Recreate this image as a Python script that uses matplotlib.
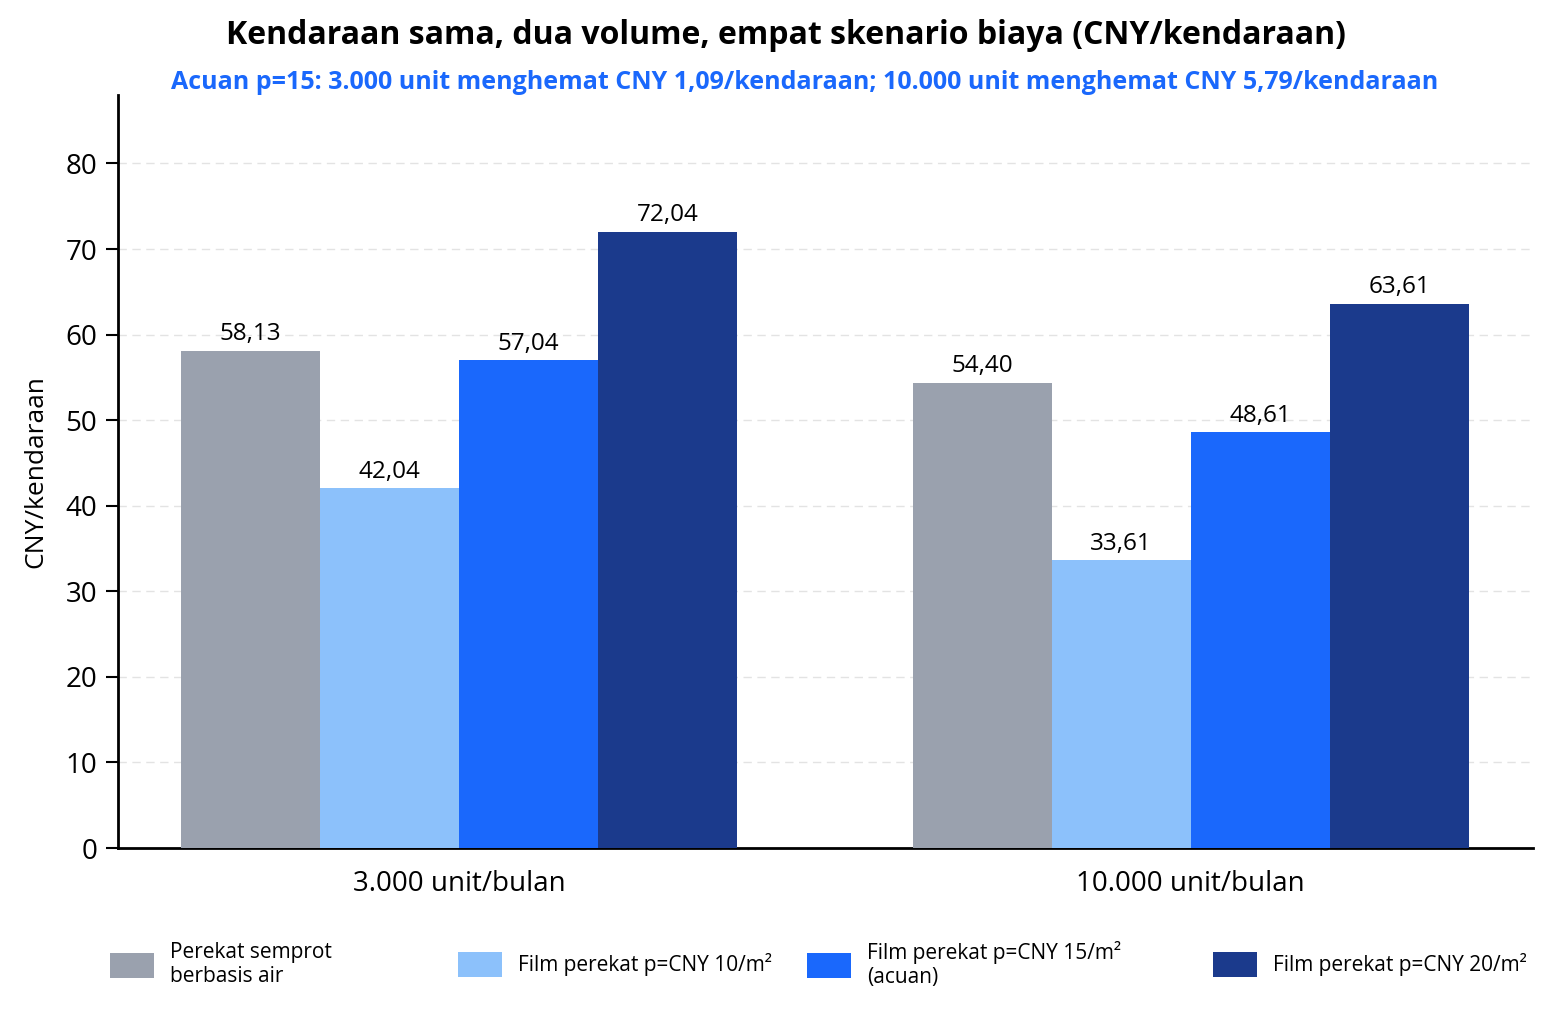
import numpy as np
import matplotlib.pyplot as plt
from matplotlib.patches import Patch

plt.rcParams['font.family'] = ['Open Sans', 'DejaVu Sans']

groups = ["3.000 unit/bulan", "10.000 unit/bulan"]
series_names = [
    "Perekat semprot\nberbasis air",
    "Film perekat p=CNY 10/m²",
    "Film perekat p=CNY 15/m²\n(acuan)",
    "Film perekat p=CNY 20/m²",
]
spray = [58.13, 54.40]
film_10 = [42.04, 33.61]
film_15 = [57.04, 48.61]
film_20 = [72.04, 63.61]
colors = ["#9aa1ae", "#8cc1fb", "#1a68fc", "#1b3a8c"]

title = "Kendaraan sama, dua volume, empat skenario biaya (CNY/kendaraan)"
subtitle = "Acuan p=15: 3.000 unit menghemat CNY 1,09/kendaraan; 10.000 unit menghemat CNY 5,79/kendaraan"

fig = plt.figure(figsize=(15.51, 10.14), dpi=100)
ax = fig.add_axes([0.0761, 0.1637, 0.9123, 0.7426])

x = np.arange(len(groups))
width = 0.19
all_series = [spray, film_10, film_15, film_20]
for i, vals in enumerate(all_series):
    offs = (i - 1.5) * width
    bars = ax.bar(x + offs, vals, width, color=colors[i], label=series_names[i], zorder=3)
    for b, v in zip(bars, vals):
        ax.text(b.get_x() + b.get_width() / 2, v + 0.5, f"{v:.2f}".replace(".", ","),
                ha="center", va="bottom", fontsize=17.5, zorder=4)

ax.set_xlim(-0.466, 1.468)
ax.set_ylim(0, 88)
ax.set_yticks(range(0, 81, 10))
ax.set_xticks(x)
ax.set_xticklabels(groups, fontsize=20)
ax.tick_params(axis="y", labelsize=20, length=9, width=1.5, pad=6)
ax.tick_params(axis="x", length=0, pad=16)
ax.set_ylabel("CNY/kendaraan", fontsize=19, labelpad=12)
ax.grid(axis="y", linestyle=(0, (6, 4)), color="#e3e3e3", linewidth=1, zorder=0)
for s in ["top", "right"]:
    ax.spines[s].set_visible(False)
for s in ["left", "bottom"]:
    ax.spines[s].set_linewidth(2)

fig.text(0.507, 0.965, title, ha="center", va="center", fontsize=23, fontweight="bold")
fig.text(0.519, 0.919, subtitle, ha="center", va="center", fontsize=18,
         fontweight="bold", color="#1a68fc")

# one legend per entry so each box sits where the reference puts it
legend_x = [110, 458, 807, 1213]
for i, name in enumerate(series_names):
    h = Patch(facecolor=colors[i], label=name)
    fig.legend(handles=[h], loc="center left",
               bbox_to_anchor=(legend_x[i] / 1551, 0.049), frameon=False,
               fontsize=15, handlelength=2.1, handleheight=1.45,
               borderpad=0, borderaxespad=0, handletextpad=0.8, labelspacing=0.1)

fig.savefig("out.png", dpi=100)
